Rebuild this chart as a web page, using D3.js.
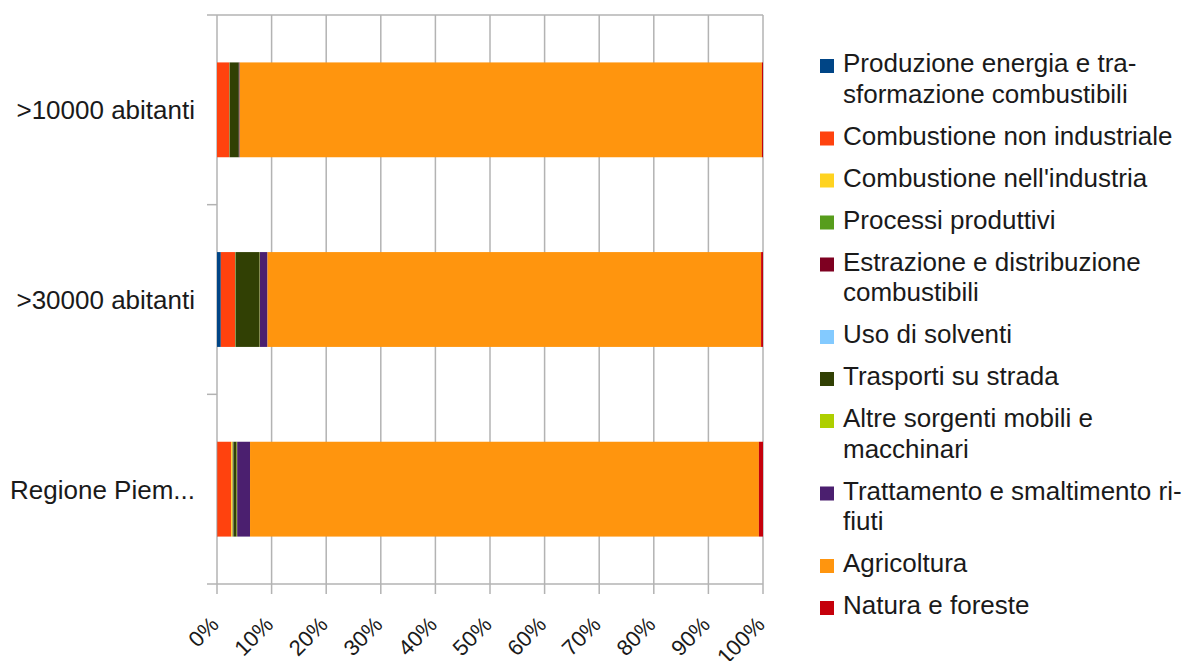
<!DOCTYPE html>
<html>
<head>
<meta charset="utf-8">
<script src="https://cdn.jsdelivr.net/npm/d3@7"></script>
<style>
  html, body { margin: 0; padding: 0; background: #fff; }
  svg { display: block; }
  text { font-family: "Liberation Sans", Arial, sans-serif; fill: #1a1a1a; }
</style>
</head>
<body>
<svg id="chart" width="1190" height="661"></svg>
<script>
// ---- data (percentages) ----
const categories = [">10000 abitanti", ">30000 abitanti", "Regione Piem..."];
const seriesNames = [
  "Produzione energia e trasformazione combustibili",
  "Combustione non industriale",
  "Combustione nell'industria",
  "Processi produttivi",
  "Estrazione e distribuzione combustibili",
  "Uso di solventi",
  "Trasporti su strada",
  "Altre sorgenti mobili e macchinari",
  "Trattamento e smaltimento rifiuti",
  "Agricoltura",
  "Natura e foreste"
];
const legendLines = [
  ["Produzione energia e tra-", "sformazione combustibili"],
  ["Combustione non industriale"],
  ["Combustione nell'industria"],
  ["Processi produttivi"],
  ["Estrazione e distribuzione", "combustibili"],
  ["Uso di solventi"],
  ["Trasporti su strada"],
  ["Altre sorgenti mobili e", "macchinari"],
  ["Trattamento e smaltimento ri-", "fiuti"],
  ["Agricoltura"],
  ["Natura e foreste"]
];
const produzioneEnergia   = [0.0,   0.7,   0.05];
const combNonIndustriale  = [2.25,  2.6,   2.55];
const combIndustria       = [0.05,  0.05,  0.25];
const processiProduttivi  = [0.0,   0.05,  0.05];
const estrazione          = [0.0,   0.0,   0.05];
const usoSolventi         = [0.0,   0.0,   0.05];
const trasportiStrada     = [1.7,   4.4,   0.6];
const altreSorgenti       = [0.0,   0.05,  0.1];
const trattamentoRifiuti  = [0.15,  1.4,   2.35];
const agricoltura         = [95.65, 90.4,  93.2];
const naturaForeste       = [0.2,   0.35,  0.75];
const seriesValues = [produzioneEnergia, combNonIndustriale, combIndustria, processiProduttivi,
  estrazione, usoSolventi, trasportiStrada, altreSorgenti, trattamentoRifiuti, agricoltura, naturaForeste];
const colors = ["#004586", "#ff420e", "#ffd320", "#579d1c", "#7e0021", "#83caff",
  "#314004", "#aecf00", "#4b1f6f", "#ff950e", "#c5000b"];
const xTicks = [0, 0.1, 0.2, 0.3, 0.4, 0.5, 0.6, 0.7, 0.8, 0.9, 1.0];

// ---- build table ----
const rows = categories.map((c, i) => {
  const r = { category: c };
  seriesNames.forEach((s, j) => r[s] = seriesValues[j][i]);
  return r;
});
const stacked = d3.stack().keys(seriesNames).offset(d3.stackOffsetExpand)(rows);

const svg = d3.select("#chart");
const pLeft = 217, pRight = 763, pTop = 15, pBottom = 584;
const x = d3.scaleLinear().domain([0, 1]).range([pLeft, pRight]);
const y = d3.scaleBand().domain(categories).range([pTop, pBottom]).paddingInner(0.5).paddingOuter(0.25);
const gridColor = "#b3b3b3";

// vertical gridlines
svg.append("g").selectAll("line").data(xTicks).join("line")
  .attr("x1", d => x(d)).attr("x2", d => x(d))
  .attr("y1", pTop).attr("y2", pBottom + 10)
  .attr("stroke", gridColor).attr("stroke-width", 1.5);

// category axis ticks at band boundaries
const boundaries = [pTop].concat(categories.map(c => y(c) + y.bandwidth() + y.step() * y.paddingInner() / 2));
boundaries[boundaries.length - 1] = pBottom;
svg.append("g").selectAll("line").data(boundaries).join("line")
  .attr("x1", pLeft - 10).attr("x2", (d, i) => (i === 0 || i === boundaries.length - 1) ? pRight : pLeft)
  .attr("y1", d => d).attr("y2", d => d)
  .attr("stroke", gridColor).attr("stroke-width", 1.5);

// bars
svg.append("g").selectAll("g").data(stacked).join("g")
  .attr("fill", (d, i) => colors[i])
  .selectAll("rect").data(d => d).join("rect")
  .attr("x", d => x(d[0]))
  .attr("width", d => Math.max(0, x(d[1]) - x(d[0])))
  .attr("y", d => y(d.data.category))
  .attr("height", y.bandwidth());

// category labels
svg.append("g").selectAll("text").data(categories).join("text")
  .attr("x", 195)
  .attr("y", d => y(d) + y.bandwidth() / 2)
  .attr("dy", "0.36em")
  .attr("text-anchor", "end")
  .attr("font-size", 26)
  .text(d => d);

// x tick labels
const fmt = d3.format(".0%");
svg.append("g").selectAll("text").data(xTicks).join("text")
  .attr("transform", d => `translate(${x(d) + 3},626) rotate(-45)`)
  .attr("text-anchor", "end")
  .attr("font-size", 22)
  .text(d => fmt(d));

// legend
const lg = svg.append("g");
let ly = 72;
legendLines.forEach((lines, i) => {
  lg.append("rect").attr("x", 820).attr("y", ly - 13).attr("width", 14).attr("height", 14)
    .attr("fill", colors[i]);
  const t = lg.append("text").attr("x", 843).attr("y", ly).attr("font-size", 26);
  lines.forEach((ln, k) => {
    t.append("tspan").attr("x", 843).attr("dy", k === 0 ? 0 : 30.5).text(ln);
  });
  ly += 42 + 30.5 * (lines.length - 1);
});
</script>
</body>
</html>
